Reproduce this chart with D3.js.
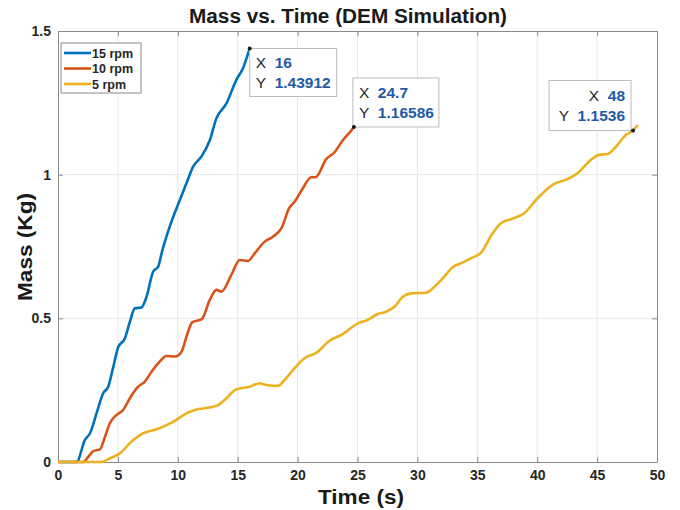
<!DOCTYPE html>
<html>
<head>
<meta charset="utf-8">
<script src="https://cdn.jsdelivr.net/npm/d3@7"></script>
<style>
  body { margin: 0; background: #fff; }
  text { font-family: "Liberation Sans", Arial, sans-serif; }
</style>
</head>
<body>
<div id="chart-area"></div>
<script>
// data
const time15 = [0, 1.55, 2.25, 2.67, 3.22, 3.78, 4.19, 4.61, 5.03, 5.58, 6.0, 6.42, 6.97, 7.39, 7.94, 8.36, 8.7, 9.33, 10.17, 10.72, 11.28, 11.97, 12.67, 13.22, 14.06, 14.89, 15.44, 16]
const mass15 = [0, 0, 0.077, 0.10, 0.17, 0.24, 0.262, 0.33, 0.40, 0.43, 0.488, 0.535, 0.538, 0.575, 0.662, 0.68, 0.735, 0.82, 0.912, 0.97, 1.028, 1.063, 1.12, 1.196, 1.248, 1.33, 1.37, 1.43912]

const time10 = [0, 2.1, 2.53, 2.94, 3.5, 3.92, 4.33, 4.89, 5.44, 6.0, 6.69, 7.25, 7.81, 8.36, 9.06, 9.75, 10.31, 10.86, 11.2, 12.0, 12.67, 13.22, 13.64, 14.47, 15.17, 15.86, 16.42, 17.25, 17.94, 18.64, 19.33, 19.75, 20.44, 21.14, 21.5, 22.39, 23.08, 23.78, 24.47, 24.7]
const mass10 = [0, 0, 0.018, 0.038, 0.044, 0.088, 0.135, 0.164, 0.181, 0.222, 0.262, 0.28, 0.314, 0.343, 0.369, 0.367, 0.384, 0.454, 0.486, 0.497, 0.564, 0.599, 0.593, 0.651, 0.703, 0.70, 0.726, 0.767, 0.784, 0.813, 0.886, 0.906, 0.953, 0.991, 0.991, 1.054, 1.078, 1.12, 1.153, 1.16586]

const time5 = [0, 3.64, 4.33, 5.17, 6.14, 7.11, 8.22, 9.61, 10.72, 11.56, 12.25, 13.36, 14.06, 14.89, 16.0, 16.83, 17.39, 18.36, 18.9, 19.61, 20.58, 21.56, 22.67, 23.64, 25.17, 25.72, 26.69, 27.39, 28.08, 28.78, 29.47, 30.72, 31.42, 32.11, 32.94, 33.78, 34.47, 35.3, 36.28, 36.97, 37.81, 38.92, 40.03, 41.42, 42.39, 43.36, 44.47, 45.17, 45.86, 46.69, 47.39, 48, 48.4]
const mass5 = [0, 0, 0.013, 0.030, 0.071, 0.10, 0.114, 0.140, 0.169, 0.183, 0.187, 0.198, 0.222, 0.253, 0.262, 0.274, 0.268, 0.265, 0.285, 0.32, 0.361, 0.38, 0.422, 0.442, 0.485, 0.492, 0.515, 0.523, 0.54, 0.575, 0.587, 0.589, 0.61, 0.639, 0.678, 0.694, 0.709, 0.728, 0.796, 0.831, 0.845, 0.866, 0.918, 0.968, 0.982, 1.005, 1.051, 1.069, 1.072, 1.103, 1.138, 1.1536, 1.173]

const seriesNames = ["15 rpm", "10 rpm", "5 rpm"]
const seriesColors = ["#0072BD", "#D95319", "#EDB120"]
const xTicks = [0, 5, 10, 15, 20, 25, 30, 35, 40, 45, 50]
const yTicks = [0, 0.5, 1, 1.5]
const tipX = [16, 24.7, 48]
const tipY = [1.43912, 1.16586, 1.1536]

const series = [
  time15.map((t, i) => [t, mass15[i]]),
  time10.map((t, i) => [t, mass10[i]]),
  time5.map((t, i) => [t, mass5[i]])
]

const LEFT = 58, TOP = 31
const WIDTH = 599, HEIGHT = 431

const svg = d3.select("#chart-area")
  .append("svg")
  .attr("width", 680)
  .attr("height", 510)

const g = svg.append("g")
  .attr("transform", `translate(${LEFT}, ${TOP})`)

const x = d3.scaleLinear().domain([0, 50]).range([0, WIDTH])
const y = d3.scaleLinear().domain([0, 1.5]).range([HEIGHT, 0])

// grid
g.append("g").selectAll("line").data(xTicks.slice(1, -1)).enter().append("line")
  .attr("x1", d => x(d)).attr("x2", d => x(d))
  .attr("y1", 0).attr("y2", HEIGHT)
  .attr("stroke", "#e6e6e6")
g.append("g").selectAll("line").data(yTicks.slice(1, -1)).enter().append("line")
  .attr("y1", d => y(d)).attr("y2", d => y(d))
  .attr("x1", 0).attr("x2", WIDTH)
  .attr("stroke", "#e6e6e6")

// axes (box with inward ticks)
const axisColor = "#8a8a8a"
function styleAxis(sel) {
  sel.select(".domain").attr("stroke", axisColor)
  sel.selectAll(".tick line").attr("stroke", axisColor)
  sel.selectAll("text")
    .attr("fill", "#262626")
    .attr("font-size", "14px")
    .attr("font-weight", "bold")
}

g.append("g")
  .attr("transform", `translate(0, ${HEIGHT})`)
  .call(d3.axisBottom(x).tickValues(xTicks).tickSize(-5).tickSizeOuter(0).tickPadding(8))
  .call(styleAxis)
g.append("g")
  .call(d3.axisTop(x).tickValues(xTicks).tickSize(-5).tickSizeOuter(0).tickFormat(""))
  .call(styleAxis)
g.append("g")
  .call(d3.axisLeft(y).tickValues(yTicks).tickSize(-5).tickSizeOuter(0).tickPadding(7).tickFormat(d3.format("")))
  .call(styleAxis)
g.append("g")
  .attr("transform", `translate(${WIDTH}, 0)`)
  .call(d3.axisRight(y).tickValues(yTicks).tickSize(-5).tickSizeOuter(0).tickFormat(""))
  .call(styleAxis)

// lines
const line = d3.line()
  .x(d => x(d[0]))
  .y(d => y(d[1]))
  .curve(d3.curveMonotoneX)

g.selectAll(".series").data(series).enter().append("path")
  .attr("class", "series")
  .attr("d", line)
  .attr("fill", "none")
  .attr("stroke", (d, i) => seriesColors[i])
  .attr("stroke-width", 2.6)
  .attr("stroke-linejoin", "round")

// data tips
const tipBoxes = [
  { dx: 0, dy: 0, w: 87, h: 48, align: "start" },
  { dx: -1, dy: -49, w: 86, h: 49, align: "start" },
  { dx: -84, dy: -50, w: 82, h: 50, align: "end" }
]
tipX.forEach((tx, i) => {
  const px = x(tx), py = y(tipY[i])
  const b = tipBoxes[i]
  const bx = px + b.dx, by = py + b.dy
  const tip = g.append("g")
  tip.append("rect")
    .attr("x", bx).attr("y", by)
    .attr("width", b.w).attr("height", b.h)
    .attr("fill", "#fff")
    .attr("stroke", "#bdbdbd")
  const rows = [["X", String(tx)], ["Y", String(tipY[i])]]
  rows.forEach((r, j) => {
    const t = tip.append("text")
      .attr("y", by + 20 + j * 20)
      .attr("font-size", "15.5px")
      .attr("text-anchor", b.align)
    if (b.align === "start") {
      t.attr("x", bx + 6)
    } else {
      t.attr("x", bx + b.w - 6)
    }
    t.append("tspan").attr("fill", "#262626").text(r[0] + "\u00a0\u00a0")
    t.append("tspan").attr("fill", "#1f5aa6").attr("font-weight", "bold").text(r[1])
  })
  tip.append("circle")
    .attr("cx", px).attr("cy", py).attr("r", 2)
    .attr("fill", "#1a1a1a")
})

// legend
const legend = g.append("g").attr("transform", "translate(3, 12)")
legend.append("rect")
  .attr("width", 80).attr("height", 50)
  .attr("fill", "#fff")
  .attr("stroke", "#8a8a8a")
seriesNames.forEach((name, i) => {
  const ly = 10 + i * 15.5
  legend.append("line")
    .attr("x1", 3).attr("x2", 30)
    .attr("y1", ly).attr("y2", ly)
    .attr("stroke", seriesColors[i])
    .attr("stroke-width", 2.6)
  legend.append("text")
    .attr("x", 31).attr("y", ly + 4.5)
    .attr("font-size", "12.5px")
    .attr("font-weight", "bold")
    .attr("fill", "#262626")
    .text(name)
})

// title and labels
svg.append("text")
  .attr("x", 348).attr("y", 23)
  .attr("text-anchor", "middle")
  .attr("font-size", "20px")
  .attr("font-weight", "bold")
  .attr("fill", "#1a1a1a")
  .attr("textLength", 318)
  .attr("lengthAdjust", "spacingAndGlyphs")
  .text("Mass vs. Time (DEM Simulation)")

svg.append("text")
  .attr("x", 361).attr("y", 504)
  .attr("text-anchor", "middle")
  .attr("font-size", "21px")
  .attr("font-weight", "bold")
  .attr("fill", "#1a1a1a")
  .attr("textLength", 86)
  .attr("lengthAdjust", "spacingAndGlyphs")
  .text("Time (s)")

svg.append("text")
  .attr("transform", "translate(32, 247) rotate(-90)")
  .attr("text-anchor", "middle")
  .attr("font-size", "21px")
  .attr("font-weight", "bold")
  .attr("fill", "#1a1a1a")
  .attr("textLength", 108)
  .attr("lengthAdjust", "spacingAndGlyphs")
  .text("Mass (Kg)")
</script>
</body>
</html>
